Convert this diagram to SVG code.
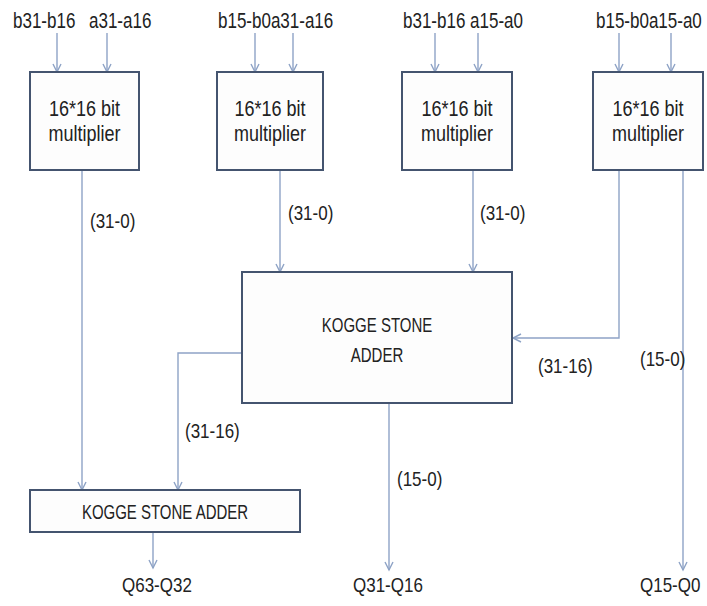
<svg xmlns="http://www.w3.org/2000/svg" width="707" height="606" viewBox="0 0 707 606">
  <style>
    .box { fill: #fdfdfd; stroke: #44546f; stroke-width: 2; }
    .wire { fill: none; stroke: #8ea3c6; stroke-width: 1.4; }
    text { font-family: "Liberation Sans", Arial, sans-serif; fill: #222; }
    .in { font-size: 17px; }
    .lbl { font-size: 17px; }
    .body { font-size: 18px; text-anchor: middle; }
    .ksa { font-size: 15px; text-anchor: middle; }
  </style>
  <defs>
    <marker id="arrow" markerUnits="userSpaceOnUse" markerWidth="12" markerHeight="12" refX="9" refY="5" orient="auto">
      <path d="M1,1 L9,5 L1,9" fill="none" stroke="#8ea3c6" stroke-width="1.4"/>
    </marker>
  </defs>

  <!-- input bus labels -->
  <g id="inputs">
    <text class="in" transform="translate(13 28) scale(1 1.25)">b31-b16</text>
    <text class="in" transform="translate(89 28) scale(1 1.25)">a31-a16</text>
    <text class="in" transform="translate(218 28) scale(1 1.25)">b15-b0a31-a16</text>
    <text class="in" transform="translate(403 28) scale(1 1.25)">b31-b16 a15-a0</text>
    <text class="in" transform="translate(596 28) scale(1 1.25)">b15-b0a15-a0</text>
  </g>

  <!-- connectors -->
  <g id="connectors">
    <line class="wire" x1="57" y1="33" x2="57" y2="72" marker-end="url(#arrow)"/>
    <line class="wire" x1="107" y1="33" x2="107" y2="72" marker-end="url(#arrow)"/>
    <line class="wire" x1="255" y1="33" x2="255" y2="72" marker-end="url(#arrow)"/>
    <line class="wire" x1="293" y1="33" x2="293" y2="72" marker-end="url(#arrow)"/>
    <line class="wire" x1="435" y1="33" x2="435" y2="72" marker-end="url(#arrow)"/>
    <line class="wire" x1="478" y1="33" x2="478" y2="72" marker-end="url(#arrow)"/>
    <line class="wire" x1="619" y1="33" x2="619" y2="72" marker-end="url(#arrow)"/>
    <line class="wire" x1="671" y1="33" x2="671" y2="72" marker-end="url(#arrow)"/>

    <line class="wire" x1="82" y1="171" x2="82" y2="490" marker-end="url(#arrow)"/>
    <line class="wire" x1="280" y1="171" x2="280" y2="272" marker-end="url(#arrow)"/>
    <line class="wire" x1="473" y1="171" x2="473" y2="272" marker-end="url(#arrow)"/>
    <polyline class="wire" points="619,171 619,338 513,338" marker-end="url(#arrow)"/>
    <line class="wire" x1="683" y1="171" x2="683" y2="570" marker-end="url(#arrow)"/>
    <polyline class="wire" points="241,353 178,353 178,490" marker-end="url(#arrow)"/>
    <line class="wire" x1="389" y1="404" x2="389" y2="570" marker-end="url(#arrow)"/>
    <line class="wire" x1="153" y1="533" x2="153" y2="568" marker-end="url(#arrow)"/>

    <text class="lbl" transform="translate(90 228) scale(1 1.2)">(31-0)</text>
    <text class="lbl" transform="translate(288 220) scale(1 1.2)">(31-0)</text>
    <text class="lbl" transform="translate(480 220) scale(1 1.2)">(31-0)</text>
    <text class="lbl" transform="translate(538 373) scale(1 1.2)">(31-16)</text>
    <text class="lbl" transform="translate(640 366) scale(1 1.2)">(15-0)</text>
    <text class="lbl" transform="translate(185 438) scale(1 1.2)">(31-16)</text>
    <text class="lbl" transform="translate(397 486) scale(1 1.2)">(15-0)</text>
  </g>

  <!-- 16x16 multipliers -->
  <g id="mult1">
    <rect class="box" x="30" y="72" width="109" height="98"/>
    <text class="body" transform="translate(84.5 116) scale(1 1.2)">16*16 bit</text>
    <text class="body" transform="translate(84.5 141) scale(1 1.2)">multiplier</text>
  </g>
  <g id="mult2">
    <rect class="box" x="217" y="72" width="106" height="98"/>
    <text class="body" transform="translate(270 116) scale(1 1.2)">16*16 bit</text>
    <text class="body" transform="translate(270 141) scale(1 1.2)">multiplier</text>
  </g>
  <g id="mult3">
    <rect class="box" x="402" y="72" width="110" height="98"/>
    <text class="body" transform="translate(457 116) scale(1 1.2)">16*16 bit</text>
    <text class="body" transform="translate(457 141) scale(1 1.2)">multiplier</text>
  </g>
  <g id="mult4">
    <rect class="box" x="593" y="72" width="110" height="98"/>
    <text class="body" transform="translate(648 116) scale(1 1.2)">16*16 bit</text>
    <text class="body" transform="translate(648 141) scale(1 1.2)">multiplier</text>
  </g>

  <!-- Kogge-Stone adders -->
  <g id="ksa1">
    <rect class="box" x="242" y="272" width="270" height="131"/>
    <text class="ksa" transform="translate(377 332) scale(1 1.3)">KOGGE STONE</text>
    <text class="ksa" transform="translate(377 362) scale(1 1.3)">ADDER</text>
  </g>
  <g id="ksa2">
    <rect class="box" x="30" y="490" width="270" height="42"/>
    <text class="ksa" transform="translate(165 519) scale(1 1.3)">KOGGE STONE ADDER</text>
  </g>

  <!-- product outputs -->
  <g id="outputs">
    <text class="lbl" transform="translate(122 592) scale(1 1.2)">Q63-Q32</text>
    <text class="lbl" transform="translate(353 592) scale(1 1.2)">Q31-Q16</text>
    <text class="lbl" transform="translate(640 592) scale(1 1.2)">Q15-Q0</text>
  </g>
</svg>
